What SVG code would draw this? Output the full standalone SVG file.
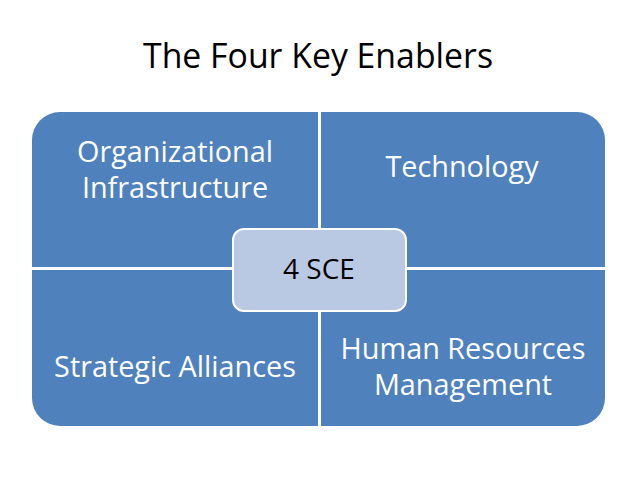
<svg xmlns="http://www.w3.org/2000/svg" width="638" height="479" viewBox="0 0 638 479">
<style>
.q{fill:#4F81BD;}
.t{font-family:"Open Sans","Noto Sans",sans-serif;fill:#FFFFFF;font-size:28.8px;text-anchor:middle;}
.title{font-family:"Open Sans","Noto Sans",sans-serif;fill:#000000;font-size:33.8px;text-anchor:middle;}
.c{font-family:"Open Sans","Noto Sans",sans-serif;fill:#000000;font-size:28px;text-anchor:middle;}
</style>
<rect width="638" height="479" fill="#FFFFFF"/>
<text class="title" x="318" y="68">The Four Key Enablers</text>
<g id="q-org">
<path class="q" d="M32,140 A28,28 0 0 1 60,112 L318,112 L318,267 L32,267 Z"/>
<text class="t" x="175" y="162">Organizational</text>
<text class="t" x="175" y="198">Infrastructure</text>
</g>
<g id="q-tech">
<path class="q" d="M321,112 L577,112 A28,28 0 0 1 605,140 L605,267 L321,267 Z"/>
<text class="t" x="462" y="177">Technology</text>
</g>
<g id="q-sa">
<path class="q" d="M32,270 L318,270 L318,426 L60,426 A28,28 0 0 1 32,398 Z"/>
<text class="t" x="175" y="377">Strategic Alliances</text>
</g>
<g id="q-hr">
<path class="q" d="M321,270 L605,270 L605,398 A28,28 0 0 1 577,426 L321,426 Z"/>
<text class="t" x="463" y="359">Human Resources</text>
<text class="t" x="463" y="395">Management</text>
</g>
<g id="center">
<rect x="233" y="229" width="173" height="82" rx="11" ry="11" fill="#B9C9E3" stroke="#FFFFFF" stroke-width="2"/>
<text class="c" x="319" y="279">4 SCE</text>
</g>
</svg>
